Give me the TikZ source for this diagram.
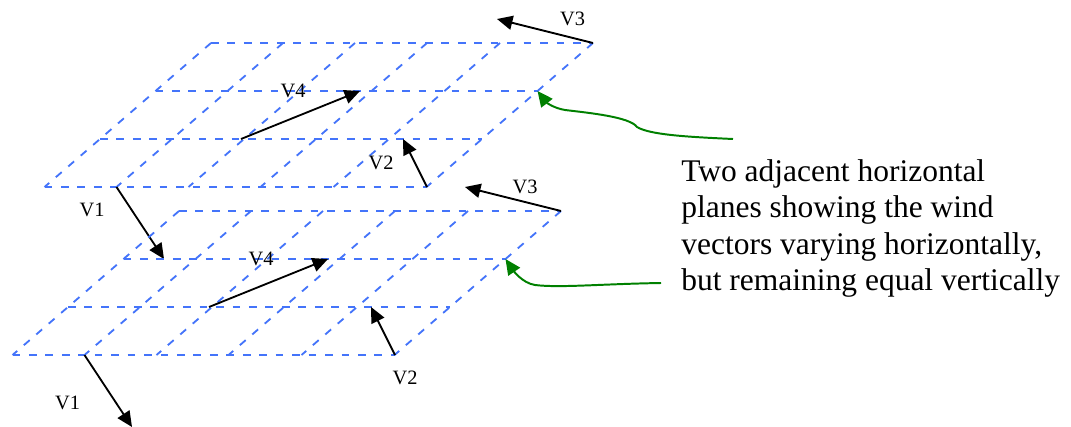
\documentclass[tikz,border=0pt]{standalone}
\usepackage{fontspec}
\setmainfont{Liberation Serif}
\usetikzlibrary{arrows.meta}
\definecolor{planeblue}{RGB}{68,116,250}
\definecolor{pointergreen}{RGB}{0,128,0}

\begin{document}
\begin{tikzpicture}[x=0.025cm,y=-0.025cm,
    plane/.style={draw=planeblue,line width=1.3pt,dash pattern=on 5.5pt off 6.2pt},
    vec/.style={draw=black,line width=1.3pt,-{Triangle[length=11pt,width=10pt]}},
    pointer/.style={draw=pointergreen,line width=1.4pt,-{Triangle[length=11pt,width=10pt]}},
    vlabel/.style={font=\fontsize{14.5}{17}\selectfont,inner sep=0pt}]
\useasboundingbox (0,0) rectangle (1071,427);
\foreach \p/\dx/\dy in {a/0/0,b/-32/168}{
  \begin{scope}[shift={(\dx,\dy)}]
    \foreach \r in {0,1,2,3}
      \draw[plane] (211-55.5*\r,43+48*\r) -- ++(382,0);
    \foreach \c in {0,72,144,216,289,382}
      \draw[plane] (211+\c,43) -- ++(-166.5,144);
    \coordinate (\p-r1) at (537.5,91);
    \coordinate (\p-t1) at (116.5,187);
    \coordinate (\p-h1) at (164,259);
    \coordinate (\p-t2) at (427,187);
    \coordinate (\p-h2) at (403,139);
    \coordinate (\p-t3) at (593,43);
    \coordinate (\p-h3) at (497,19);
    \coordinate (\p-t4) at (241,139);
    \coordinate (\p-h4) at (360,91);
    \draw[vec] (\p-t1) -- (\p-h1);
    \draw[vec] (\p-t2) -- (\p-h2);
    \draw[vec] (\p-t3) -- (\p-h3);
    \draw[vec] (\p-t4) -- (\p-h4);
  \end{scope}
}
\node[vlabel] (a-l1) at (92,210) {V1};
\node[vlabel] (a-l2) at (381,163) {V2};
\node[vlabel] (a-l3) at (572.5,19) {V3};
\node[vlabel] (a-l4) at (293,90.5) {V4};
\node[vlabel] (b-l1) at (67.5,402.5) {V1};
\node[vlabel] (b-l2) at (405,378) {V2};
\node[vlabel] (b-l3) at (525,186.5) {V3};
\node[vlabel] (b-l4) at (261,259) {V4};
\node[anchor=north west,align=left,inner sep=0pt,font=\fontsize{22.4}{25.8}\selectfont]
  (note) at (681,159.5) {Two adjacent horizontal\\planes showing the wind\\vectors varying horizontally,\\but remaining equal vertically};
\coordinate (s1) at (733,139);
\coordinate (s2) at (661,283);
\draw[pointer] (s1) .. controls (690,137) and (650,135) .. (637,127)
  .. controls (630,117) and (590,113) .. (565,110)
  .. controls (553,108) and (546,102) .. (a-r1);
\draw[pointer] (s2) .. controls (600,284) and (560,288) .. (535,285)
  .. controls (522,283) and (513,270) .. (b-r1);
\end{tikzpicture}
\end{document}
